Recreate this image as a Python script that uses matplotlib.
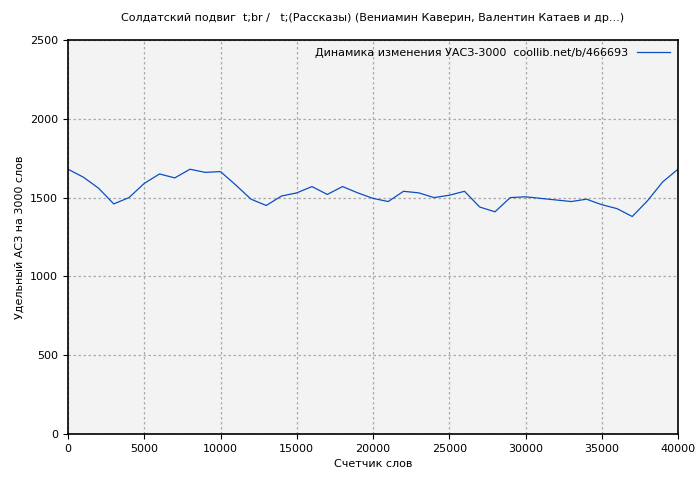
import matplotlib
matplotlib.use("Agg")
import matplotlib.pyplot as plt

x = list(range(0, 41000, 1000))
y = [1680,1630,1560,1460,1500,1590,1650,1625,1680,1660,1665,1580,1490,1450,1510,1530,1570,1520,1570,1530,1495,1475,1540,1530,1500,1515,1540,1440,1410,1500,1505,1495,1485,1475,1490,1455,1430,1380,1480,1600,1680]
xticks = list(range(0, 40001, 5000))
yticks = list(range(0, 2501, 500))

plt.rcParams['font.family'] = ['DejaVu Sans']
plt.rcParams['font.size'] = 8
fig = plt.figure(figsize=(7, 4.8), dpi=100)
ax = fig.add_axes([68/700, 46/480, 610/700, 394/480])
ax.set_facecolor('#f3f3f3')
ax.plot(x, y, color='#0a4fc0', lw=0.9, label='Динамика изменения УАСЗ-3000  coollib.net/b/466693')
ax.set_xlim(0, 40000)
ax.set_ylim(0, 2500)
ax.set_xticks(xticks)
ax.set_yticks(yticks)
ax.grid(True, color='#aaaaaa', linestyle=(0, (2, 2)), lw=0.9)
for s in ax.spines.values():
    s.set_linewidth(1.2)
ax.set_xlabel('Счетчик слов')
ax.set_ylabel('Удельный АСЗ на 3000 слов')
ax.set_title('Солдатский подвиг  t;br /   t;(Рассказы) (Вениамин Каверин, Валентин Катаев и др...)', fontsize=8, pad=14)
leg = ax.legend(loc='upper right', frameon=False, handlelength=3, borderaxespad=0.3, markerfirst=False)
fig.savefig('out.png', dpi=100, facecolor='white')
